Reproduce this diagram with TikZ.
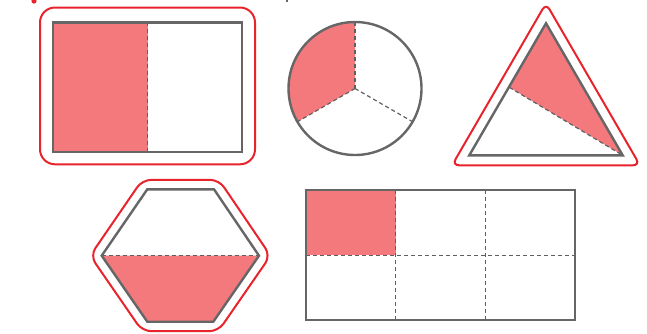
\documentclass[tikz,border=0pt]{standalone}
\begin{document}
\begin{tikzpicture}[x=1pt,y=-1pt,
  outline/.style={draw=grayline,line width=2.4pt,line join=miter},
  frame/.style={draw=redline,line width=2pt},
  divide/.style={draw=dashgray,line width=1.2pt,dash pattern=on 4pt off 3pt},
  part/.style={fill=shade}]
\definecolor{shade}{HTML}{F4797D}
\definecolor{redline}{HTML}{E8232B}
\definecolor{grayline}{HTML}{666666}
\definecolor{dashgray}{HTML}{5F5F5F}
\useasboundingbox (0,0) rectangle (647,333);
% cut-off fragments at top
\fill[redline] (34,1) circle (2.6pt);
\fill[grayline] (285.5,0) rectangle (288,2);
% --- rectangle (halves)
\draw[frame,rounded corners=15pt] (40,7.5) rectangle (255,164.3);
\fill[part] (52.7,22.3) rectangle (147.7,151.7);
\draw[divide] (147.7,22.3) -- (147.7,151.7);
\draw[outline] (52.7,22.3) rectangle (241.7,151.7);
% --- circle (thirds)
\fill[part] (355,88.5) -- (355,22) arc[start angle=-90,end angle=-210,radius=66.5] -- cycle;
\draw[divide] (355,88.5) -- (355,22);
\draw[divide] (355,88.5) -- ++(30:66.5);
\draw[divide] (355,88.5) -- ++(150:66.5);
\draw[outline] (355,88.5) circle (66.5pt);
% --- triangle
\draw[frame,rounded corners=7pt] (546,3.3) -- (640,165.3) -- (452,165.3) -- cycle;
\fill[part] (546,23.3) -- (509.3,87.3) -- (622.7,155.3) -- cycle;
\draw[divide] (509.3,87.3) -- (622.7,155.3);
\draw[outline] (546,23.3) -- (622.7,155.3) -- (469.3,155.3) -- cycle;
% --- hexagon (halves)
\draw[frame,rounded corners=9pt] (142.3,179.8) -- (219,179.8) -- (270.5,255.7) -- (218.3,331.2) -- (142.3,331.2) -- (90.2,255.7) -- cycle;
\fill[part] (101.7,255.7) -- (259,255.7) -- (213.3,321.7) -- (147.3,321.7) -- cycle;
\draw[divide] (101.7,255.7) -- (259,255.7);
\draw[outline] (147.3,189.3) -- (214,189.3) -- (259,255.7) -- (213.3,321.7) -- (147.3,321.7) -- (101.7,255.7) -- cycle;
% --- big rectangle (sixths)
\fill[part] (306,190) rectangle (395.7,255.3);
\draw[divide] (395.7,190) -- (395.7,320);
\draw[divide] (485.7,190) -- (485.7,320);
\draw[divide] (306,255.3) -- (575,255.3);
\draw[outline] (306,190) rectangle (575,320);
\end{tikzpicture}
\end{document}
